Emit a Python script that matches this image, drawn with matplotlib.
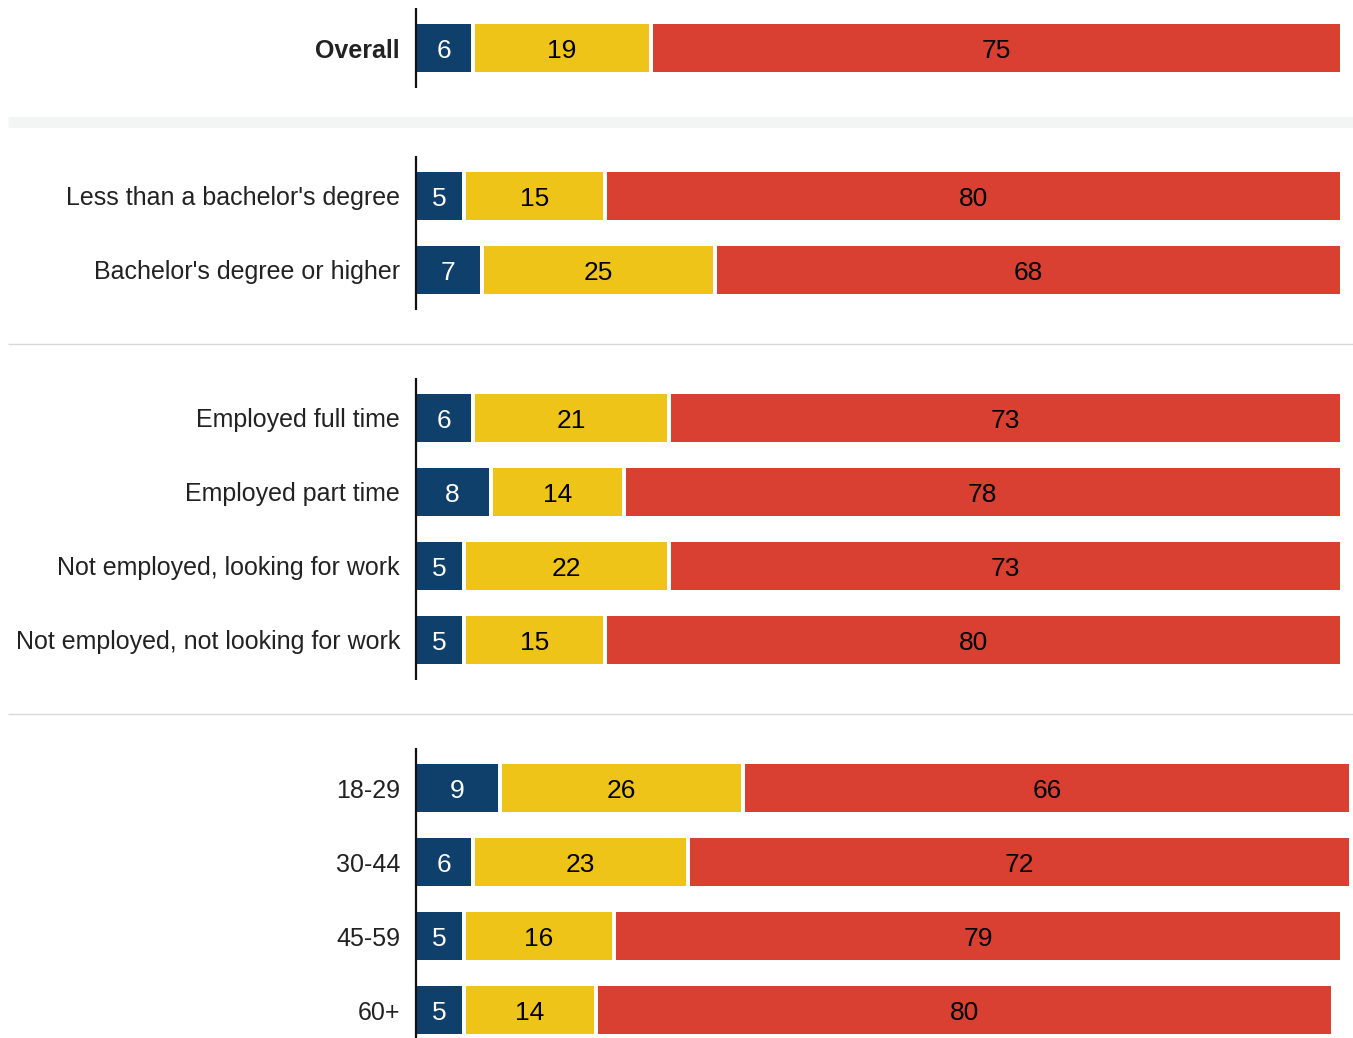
import numpy as np
import matplotlib.pyplot as plt

plt.rcParams['font.family'] = ['Liberation Sans', 'DejaVu Sans']

# data
groups = [
    ["Overall"],
    ["Less than a bachelor's degree", "Bachelor's degree or higher"],
    ["Employed full time", "Employed part time",
     "Not employed, looking for work", "Not employed, not looking for work"],
    ["18-29", "30-44", "45-59", "60+"],
]
blue_vals = [6, 5, 7, 6, 8, 5, 5, 9, 6, 5, 5]
yellow_vals = [19, 15, 25, 21, 14, 22, 15, 26, 23, 16, 14]
red_vals = [75, 80, 68, 73, 78, 73, 80, 66, 72, 79, 80]

colors = ["#0f3f6b", "#efc419", "#d94032"]
text_colors = ["white", "black", "black"]

# row positions: one empty row between groups
labels, ypos, group_rows = [], [], []
y = 0
for gi, g in enumerate(groups):
    rows = []
    for lab in g:
        labels.append(lab)
        ypos.append(y)
        rows.append(y)
        y += 1
    group_rows.append(rows)
    y += 1
ypos = np.array(ypos)

fig = plt.figure(figsize=(13.53, 10.38), dpi=100)
ax = fig.add_axes([0, 0, 1, 1])
px = 9.16  # pixels per percent
ax.set_xlim(-416 / px, (1353 - 416) / px)
ax.set_ylim((1038 - 48) / 74, -48 / 74)
ax.axis("off")

bar_h = 48 / 74
gap = 4 / px
series = [blue_vals, yellow_vals, red_vals]
left = np.zeros(len(labels))
for si, vals in enumerate(series):
    vals = np.array(vals, dtype=float)
    ax.barh(ypos, vals, left=left, height=bar_h, color=colors[si], edgecolor="none")
    for yy, l, v in zip(ypos, left, vals):
        ax.text(l + v / 2, yy, f"{int(v)}", ha="center", va="center_baseline",
                fontsize=19, color=text_colors[si])
    left = left + vals + gap

# category labels
for i, (lab, yy) in enumerate(zip(labels, ypos)):
    ax.text(-16 / px, yy, lab, ha="right", va="center_baseline", fontsize=18,
            color="#222222", fontweight="bold" if lab == "Overall" else "normal")

# vertical axis line per group
for rows in group_rows:
    ax.plot([0, 0], [rows[0] - bar_h / 2 - 16 / 74, rows[-1] + bar_h / 2 + 16 / 74],
            color="#111111", lw=1.6, solid_capstyle="butt", zorder=5)

# group separators
xl = ax.get_xlim()
sep_x0 = xl[0] + 8 / px
for k in range(len(group_rows) - 1):
    ysep = (group_rows[k][-1] + group_rows[k + 1][0]) / 2
    if k == 0:
        ax.plot([sep_x0, xl[1]], [ysep, ysep], color="#f3f5f4", lw=8,
                solid_capstyle="butt", zorder=0)
    else:
        ax.plot([sep_x0, xl[1]], [ysep, ysep], color="#d9d9d9", lw=1,
                solid_capstyle="butt", zorder=0)

fig.savefig("out.png", dpi=100)
